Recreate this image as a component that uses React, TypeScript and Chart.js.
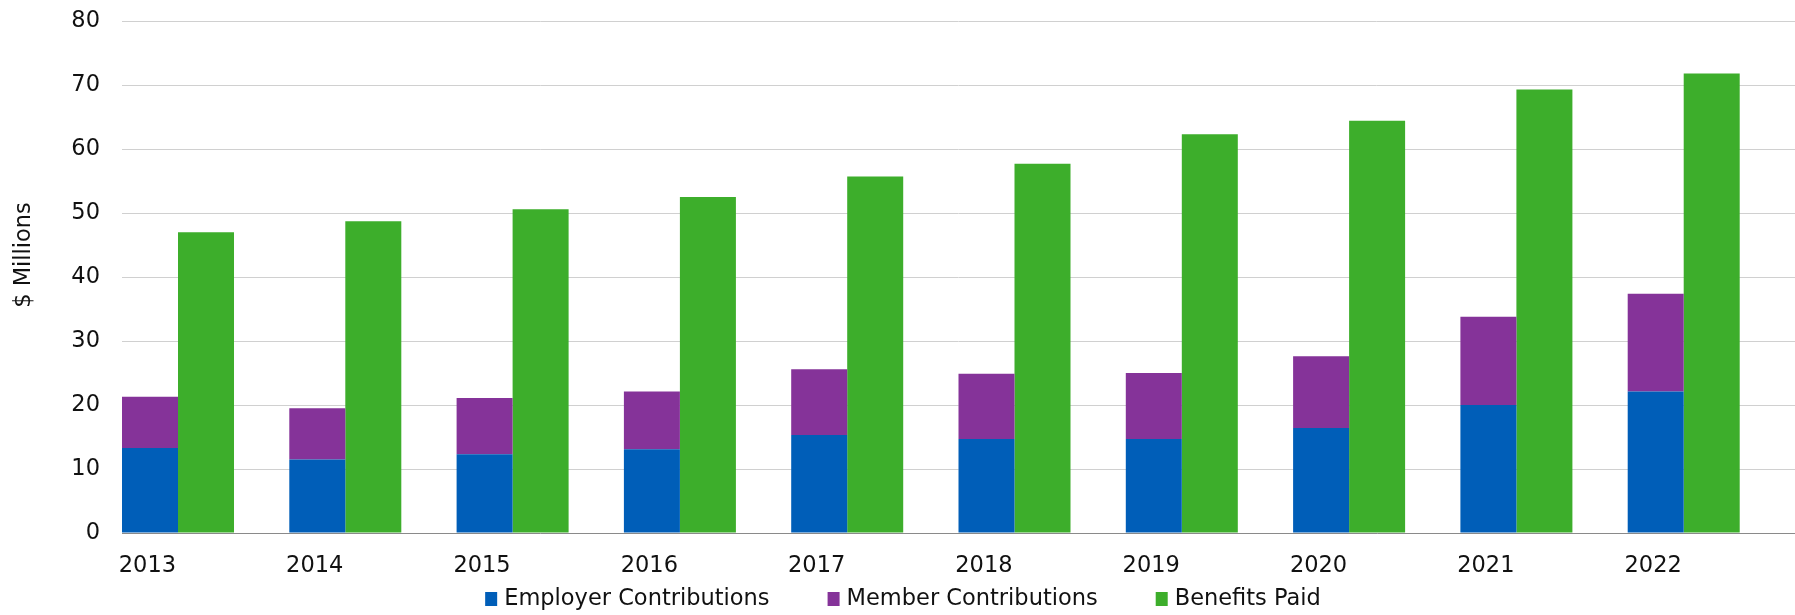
import React, { useEffect, useRef } from "react";
import { Chart, registerables } from "chart.js";

Chart.register(...registerables);

// ---- Data ----
const YEARS = ["2013", "2014", "2015", "2016", "2017", "2018", "2019", "2020", "2021", "2022"];
const EMPLOYER = [13.3, 11.5, 12.3, 13.1, 15.3, 14.7, 14.7, 16.4, 20.0, 22.1];
const MEMBER = [8.0, 8.0, 8.8, 9.0, 10.3, 10.2, 10.3, 11.2, 13.8, 15.3];
const BENEFITS = [47.0, 48.7, 50.6, 52.5, 55.7, 57.7, 62.3, 64.4, 69.3, 71.8];
const Y_TICK_MIN = 0;
const Y_TICK_MAX = 80;
const Y_TICK_STEP = 10;
const SERIES_NAMES = ["Employer Contributions", "Member Contributions", "Benefits Paid"];
const Y_TITLE = "$ Millions";

// ---- Styling ----
const COLORS = ["#005EB8", "#853399", "#3DAE2B"];
const FONT_FAMILY = '"DejaVu Sans", "Liberation Sans", Arial, sans-serif';
const FONT_SIZE = 22.5;
const TEXT_COLOR = "#111111";
const PAIR_FRACTION = 0.6695; // share of each category used by the bar pair
const PAIR_CENTER = PAIR_FRACTION / 2; // pair starts at the category's left edge
const LABEL_POS = 0.152; // year label under the stacked bar

const WIDTH = 1795;
const HEIGHT = 615;

const customPlugin = {
  id: "customDecor",
  afterDraw(chart: any) {
    const ctx = chart.ctx as CanvasRenderingContext2D;
    ctx.save();
    ctx.font = `${FONT_SIZE}px ${FONT_FAMILY}`;
    ctx.fillStyle = TEXT_COLOR;

    // Y axis title
    ctx.save();
    ctx.translate(24, 255);
    ctx.rotate(-Math.PI / 2);
    ctx.textAlign = "center";
    ctx.textBaseline = "middle";
    ctx.fillText(Y_TITLE, 0, 0);
    ctx.restore();

    // Legend
    const boxW = 12;
    const boxH = 14;
    const gap = 7;
    const spacing = 58;
    const widths = SERIES_NAMES.map((t) => ctx.measureText(t).width);
    let total = 0;
    widths.forEach((w, i) => {
      total += boxW + gap + w + (i < widths.length - 1 ? spacing : 0);
    });
    let x = 903 - total / 2;
    const yMid = 599;
    ctx.textAlign = "left";
    ctx.textBaseline = "middle";
    SERIES_NAMES.forEach((t, i) => {
      ctx.fillStyle = COLORS[i];
      ctx.fillRect(x, yMid - boxH / 2, boxW, boxH);
      ctx.fillStyle = TEXT_COLOR;
      ctx.fillText(t, x + boxW + gap, yMid);
      x += boxW + gap + widths[i] + spacing;
    });
    ctx.restore();
  },
};

export default function App() {
  const canvasRef = useRef<HTMLCanvasElement | null>(null);

  useEffect(() => {
    if (!canvasRef.current) return;
    const toPoints = (arr: number[]) => arr.map((v, i) => ({ x: i + PAIR_CENTER, y: v }));

    const chart = new Chart(canvasRef.current, {
      type: "bar",
      data: {
        datasets: [
          {
            label: SERIES_NAMES[0],
            data: toPoints(EMPLOYER),
            backgroundColor: COLORS[0],
            stack: "contrib",
            borderWidth: 0,
          },
          {
            label: SERIES_NAMES[1],
            data: toPoints(MEMBER),
            backgroundColor: COLORS[1],
            stack: "contrib",
            borderWidth: 0,
          },
          {
            label: SERIES_NAMES[2],
            data: toPoints(BENEFITS),
            backgroundColor: COLORS[2],
            stack: "benefits",
            borderWidth: 0,
          },
        ],
      },
      options: {
        animation: false,
        responsive: true,
        maintainAspectRatio: false,
        layout: { padding: { top: 21, left: 0, right: 0, bottom: 0 } },
        datasets: {
          bar: {
            categoryPercentage: PAIR_FRACTION,
            barPercentage: 1.0,
          },
        },
        plugins: {
          legend: { display: false },
          tooltip: { enabled: false },
          title: { display: false },
        },
        scales: {
          x: {
            type: "linear",
            min: 0,
            max: YEARS.length,
            offset: false,
            grid: { display: false, drawTicks: false },
            border: { display: true, color: "#8a8a8a", width: 1 },
            afterBuildTicks: (scale: any) => {
              scale.ticks = YEARS.map((_, i) => ({ value: i + LABEL_POS }));
            },
            afterFit: (scale: any) => {
              scale.height = HEIGHT - 533;
            },
            ticks: {
              autoSkip: false,
              maxRotation: 0,
              minRotation: 0,
              padding: 20,
              color: TEXT_COLOR,
              font: { family: FONT_FAMILY, size: FONT_SIZE },
              callback: (_v: any, index: number) => YEARS[index],
            },
          },
          y: {
            type: "linear",
            stacked: true,
            min: Y_TICK_MIN,
            max: Y_TICK_MAX,
            grid: {
              color: "#d0d0d0",
              lineWidth: 1,
              drawTicks: true,
              tickLength: 17,
              tickColor: "rgba(0,0,0,0)",
            },
            border: { display: false },
            afterFit: (scale: any) => {
              scale.width = 122;
            },
            ticks: {
              stepSize: Y_TICK_STEP,
              padding: 5,
              color: TEXT_COLOR,
              font: { family: FONT_FAMILY, size: FONT_SIZE },
            },
          },
        },
      },
      plugins: [customPlugin],
    });

    return () => chart.destroy();
  }, []);

  return (
    <div
      style={{
        position: "absolute",
        left: 0,
        top: 0,
        width: WIDTH + "px",
        height: HEIGHT + "px",
        background: "#ffffff",
      }}
    >
      <canvas ref={canvasRef} />
    </div>
  );
}
